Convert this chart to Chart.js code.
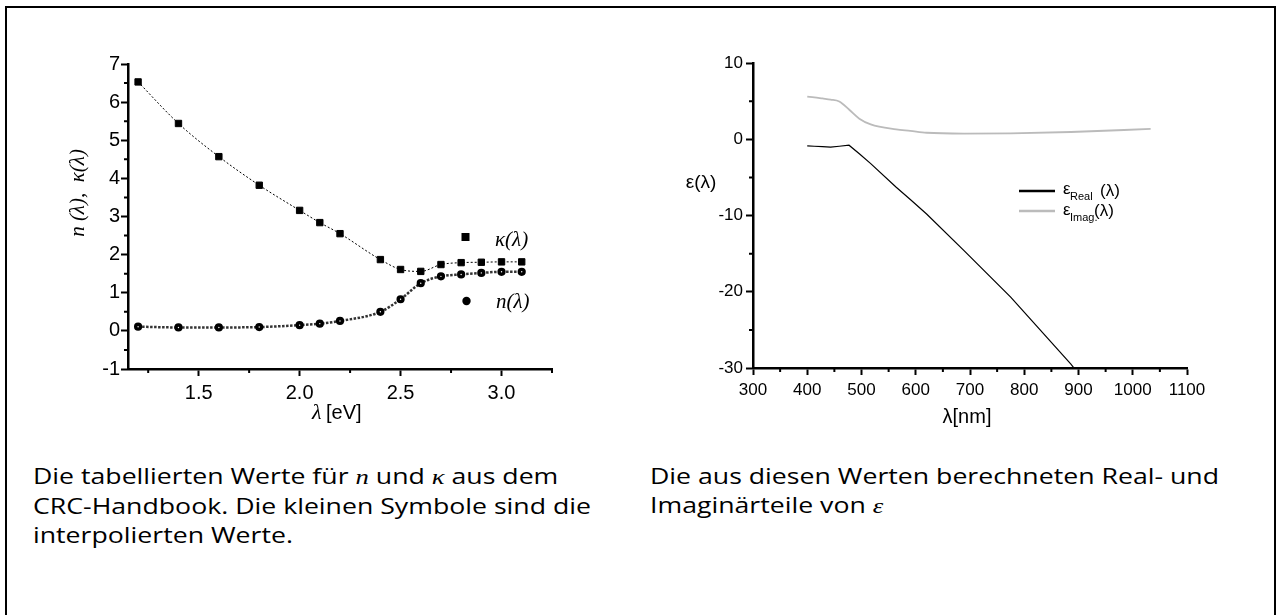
<!DOCTYPE html>
<html lang="de">
<head>
<meta charset="UTF-8">
<title>n, κ und ε</title>
<script src="https://cdn.jsdelivr.net/npm/chart.js"></script>
<style>
  html, body { margin: 0; padding: 0; background: #fff; }
  body { width: 1279px; height: 615px; position: relative; overflow: hidden; }
  .frame { position: absolute; left: 5px; top: 6px; width: 1271px; height: 660px;
           border: 2px solid #000; box-sizing: border-box; }
  canvas { position: absolute; top: 0; }
  #left { left: 0; }
  #right { left: 640px; }
  .cap { position: absolute; top: 462px; font-family: "Open Sans", sans-serif;
         font-size: 21px; line-height: 29px; color: #000; white-space: nowrap;
         transform: scaleX(1.27); transform-origin: 0 0; }
  .m { font-family: "Liberation Serif", serif; font-style: italic; }
</style>
</head>
<body>
<div class="frame"></div>
<canvas id="left" width="620" height="460"></canvas>
<canvas id="right" width="620" height="460"></canvas>
<div class="cap" style="left:33px">Die tabellierten Werte für <span class="m">n</span> und <span class="m">κ</span> aus dem<br>CRC-Handbook. Die kleinen Symbole sind die<br>interpolierten Werte.</div>
<div class="cap" style="left:650px">Die aus diesen Werten berechneten Real- und<br>Imaginärteile von <span class="m">ε</span></div>
<script>
// linke Grafik: Tabellenwerte (CRC)
const eV = [1.2, 1.4, 1.6, 1.8, 2.0, 2.1, 2.2, 2.4, 2.5, 2.6, 2.7, 2.8, 2.9, 3.0, 3.1]
const kappa = [6.53, 5.44, 4.57, 3.82, 3.16, 2.84, 2.55, 1.87, 1.61, 1.56, 1.74, 1.79, 1.80, 1.81, 1.81]
const nIdx = [0.11, 0.09, 0.09, 0.10, 0.15, 0.19, 0.26, 0.50, 0.83, 1.25, 1.43, 1.48, 1.52, 1.55, 1.55]
const xTicksL = [1.5, 2.0, 2.5, 3.0]
const xMinorL = [1.25, 1.75, 2.25, 2.75, 3.25]
const yTicksL = [-1, 0, 1, 2, 3, 4, 5, 6, 7]
const yMinorL = [-0.5, 0.5, 1.5, 2.5, 3.5, 4.5, 5.5, 6.5]

// rechte Grafik: Real- und Imaginärteil von epsilon
const nm = [400, 413, 428, 443, 459, 477, 496, 517, 564, 590, 620, 689, 775, 886, 1033]
const epsReal = [-0.88, -0.92, -0.98, -1.02, -0.92, -0.78, -1.9, -3.2, -6.3, -7.9, -9.8, -14.6, -20.7, -29.5, -42.6]
const epsImag = [5.6, 5.5, 5.35, 5.2, 4.95, 3.9, 2.7, 1.95, 1.3, 1.1, 0.85, 0.75, 0.78, 0.95, 1.35]
const xTicksR = [300, 400, 500, 600, 700, 800, 900, 1000, 1100]
const xMinorR = [350, 450, 550, 650, 750, 850, 950, 1050]
const yTicksR = [-30, -20, -10, 0, 10]
const yMinorR = [-25, -15, -5, 5]

const pts = (xs, ys) => xs.map((x, i) => ({ x: x, y: ys[i] }))

function axis(min, max, ticks, size, fontSize, pad, horizontal, fmt) {
  return {
    type: "linear",
    min: min,
    max: max,
    border: { display: true, color: "#000", width: 2.5 },
    grid: { display: true, drawOnChartArea: false, drawTicks: true, tickLength: 7, tickColor: "#000", tickWidth: 2 },
    ticks: {
      color: "#000",
      padding: pad,
      font: { family: "Liberation Sans", size: fontSize },
      callback: fmt,
      maxRotation: 0,
      autoSkip: false,
    },
    afterBuildTicks: (s) => { s.ticks = ticks.map((v) => ({ value: v })) },
    afterFit: (s) => {
      s.paddingTop = 0; s.paddingBottom = 0; s.paddingLeft = 0; s.paddingRight = 0
      if (horizontal) s.height = size
      else s.width = size
    },
  }
}

// kleine Zwischenstriche an den Achsen
const minorTicks = {
  id: "minorTicks",
  afterDraw(chart, args, opts) {
    const ctx = chart.ctx
    const xs = chart.scales.x, ys = chart.scales.y
    ctx.save()
    ctx.strokeStyle = "#000"
    ctx.lineWidth = 2
    ctx.beginPath()
    opts.x.forEach((v) => {
      const p = xs.getPixelForValue(v)
      ctx.moveTo(p, xs.top); ctx.lineTo(p, xs.top + 4)
    })
    opts.y.forEach((v) => {
      const p = ys.getPixelForValue(v)
      ctx.moveTo(ys.right, p); ctx.lineTo(ys.right - 4, p)
    })
    ctx.stroke()
    ctx.restore()
  },
}

const leftText = {
  id: "leftText",
  afterDraw(chart) {
    const ctx = chart.ctx
    ctx.save()
    ctx.fillStyle = "#000"
    // y-Achsentitel
    ctx.save()
    ctx.translate(84, 193)
    ctx.rotate(-Math.PI / 2)
    ctx.font = "italic 21px 'Liberation Serif'"
    ctx.textAlign = "center"
    ctx.fillText("n (λ),  κ(λ)", 0, 0)
    ctx.restore()
    // x-Achsentitel
    ctx.font = "italic 22px 'Liberation Serif'"
    ctx.fillText("λ", 312, 419)
    ctx.font = "20px 'Liberation Sans'"
    ctx.fillText("[eV]", 326, 419)
    // Legende
    ctx.fillRect(461.5, 233, 8, 8)
    ctx.beginPath()
    ctx.arc(466.5, 301, 4.2, 0, Math.PI * 2)
    ctx.fill()
    ctx.font = "italic 21px 'Liberation Serif'"
    ctx.fillText("κ(λ)", 495, 246)
    ctx.fillText("n(λ)", 496, 308)
    ctx.restore()
  },
}

const rightText = {
  id: "rightText",
  afterDraw(chart) {
    const ctx = chart.ctx
    ctx.save()
    ctx.fillStyle = "#000"
    ctx.font = "19px 'Liberation Sans'"
    ctx.textAlign = "center"
    ctx.fillText("ε(λ)", 61, 188)
    ctx.font = "20px 'Liberation Sans'"
    ctx.fillText("λ[nm]", 327, 423)
    ctx.textAlign = "left"
    // Legende
    ctx.lineWidth = 2.5
    ctx.strokeStyle = "#000"
    ctx.beginPath(); ctx.moveTo(379, 191); ctx.lineTo(415, 191); ctx.stroke()
    ctx.strokeStyle = "#bbb"
    ctx.beginPath(); ctx.moveTo(379, 211); ctx.lineTo(415, 211); ctx.stroke()
    ctx.font = "17px 'Liberation Sans'"
    ctx.fillText("ε", 423, 194)
    ctx.fillText("(λ)", 460, 196)
    ctx.fillText("ε", 423, 215)
    ctx.fillText("(λ)", 454, 216)
    ctx.font = "11px 'Liberation Sans'"
    ctx.fillText("Real", 430, 200)
    ctx.fillText("Imag.", 430, 221)
    ctx.restore()
  },
}

new Chart(document.getElementById("left"), {
  type: "scatter",
  data: {
    datasets: [
      {
        label: "κ(λ)",
        data: pts(eV, kappa),
        showLine: true,
        borderColor: "#000",
        borderWidth: 1,
        borderDash: [2, 2],
        cubicInterpolationMode: "monotone",
        pointStyle: "rect",
        pointRadius: 4.5,
        pointBorderWidth: 1,
        pointBackgroundColor: "#000",
        pointBorderColor: "#000",
      },
      {
        label: "n(λ)",
        data: pts(eV, nIdx),
        showLine: true,
        borderColor: "#333",
        borderWidth: 2.5,
        borderDash: [2.5, 1.5],
        cubicInterpolationMode: "monotone",
        pointStyle: "circle",
        pointRadius: 2.4,
        pointBorderWidth: 3.4,
        pointBackgroundColor: "#fff",
        pointBorderColor: "#000",
      },
    ],
  },
  options: {
    responsive: false,
    animation: false,
    layout: { padding: { left: 0, top: 64, right: 68, bottom: 0 } },
    plugins: {
      legend: { display: false },
      tooltip: { enabled: false },
      minorTicks: { x: xMinorL, y: yMinorL },
    },
    scales: {
      x: axis(1.15, 3.25, xTicksL, 91, 20, 5, true, (v) => v.toFixed(1)),
      y: axis(-1, 7, yTicksL, 128, 20, 1, false, (v) => String(v)),
    },
  },
  plugins: [minorTicks, leftText],
})

new Chart(document.getElementById("right"), {
  type: "scatter",
  data: {
    datasets: [
      {
        label: "εImag.(λ)",
        data: pts(nm, epsImag),
        showLine: true,
        borderColor: "#bbb",
        borderWidth: 1.8,
        pointRadius: 0,
        cubicInterpolationMode: "monotone",
      },
      {
        label: "εReal(λ)",
        data: pts(nm, epsReal),
        showLine: true,
        borderColor: "#000",
        borderWidth: 1.2,
        pointRadius: 0,
      },
    ],
  },
  options: {
    responsive: false,
    animation: false,
    layout: { padding: { left: 0, top: 63, right: 73, bottom: 0 } },
    plugins: {
      legend: { display: false },
      tooltip: { enabled: false },
      minorTicks: { x: xMinorR, y: yMinorR },
    },
    scales: {
      x: axis(300, 1100, xTicksR, 92, 17, 5, true, (v) => String(v)),
      y: axis(-30, 10, yTicksR, 113, 17, 3, false, (v) => String(v)),
    },
  },
  plugins: [minorTicks, rightText],
})
</script>
</body>
</html>
